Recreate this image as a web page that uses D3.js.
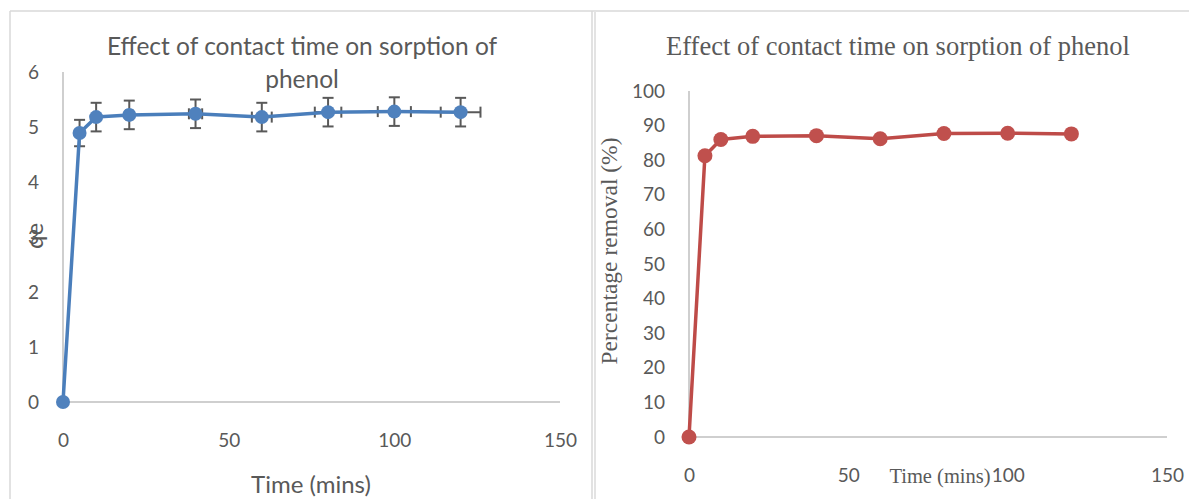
<!DOCTYPE html>
<html>
<head>
<meta charset="utf-8">
<script src="https://cdn.jsdelivr.net/npm/d3@7"></script>
<style>
  html, body { margin: 0; padding: 0; background: #ffffff; }
  svg { display: block; }
</style>
</head>
<body>
<svg id="chart" width="1189" height="499"></svg>
<script>
// ---- data ----
const times = [0, 5, 10, 20, 40, 60, 80, 100, 120];
const qe = [0, 4.89, 5.18, 5.22, 5.24, 5.18, 5.27, 5.28, 5.27];
const qeErr = [0, 0.24, 0.26, 0.26, 0.26, 0.26, 0.26, 0.26, 0.26];
const timeErr = [0, 0.25, 0.5, 1, 2, 3, 4, 5, 6];
const removal = [0, 81.3, 86.0, 86.9, 87.1, 86.2, 87.7, 87.8, 87.6];
const xTicks = [0, 50, 100, 150];
const qeTicks = [0, 1, 2, 3, 4, 5, 6];
const removalTicks = [0, 10, 20, 30, 40, 50, 60, 70, 80, 90, 100];
const leftTitle = ["Effect of contact time on sorption of", "phenol"];
const rightTitle = "Effect of contact time on sorption of phenol";
const xLabel = "Time (mins)";
const leftYLabel = "qe";
const rightYLabel = "Percentage removal (%)";

const svg = d3.select("#chart");
const textCol = "#595959";
const axisCol = "#bfbfbf";
const sans = "Lato, 'Open Sans', sans-serif";
const serif = "'Liberation Serif', 'DejaVu Serif', serif";

// panel borders
svg.append("line").attr("x1", 10).attr("x2", 1189).attr("y1", 11).attr("y2", 11)
  .attr("stroke", "#d9d9d9").attr("stroke-width", 1.5);
svg.append("line").attr("x1", 10).attr("x2", 10).attr("y1", 11).attr("y2", 499)
  .attr("stroke", "#d9d9d9").attr("stroke-width", 1.5);
svg.append("line").attr("x1", 592).attr("x2", 592).attr("y1", 11).attr("y2", 499)
  .attr("stroke", "#d9d9d9").attr("stroke-width", 1.5);
svg.append("line").attr("x1", 595).attr("x2", 595).attr("y1", 11).attr("y2", 499)
  .attr("stroke", "#e3e3e3").attr("stroke-width", 2);

function drawAxes(g, x, y, yTicks, tickFont, tickSize) {
  const [x0, x1] = x.range();
  const [y0, y1] = y.range();
  g.append("line").attr("x1", x0).attr("x2", x0).attr("y1", y0).attr("y2", y1)
    .attr("stroke", axisCol).attr("stroke-width", 1.5);
  g.append("line").attr("x1", x0).attr("x2", x1).attr("y1", y(0)).attr("y2", y(0))
    .attr("stroke", axisCol).attr("stroke-width", 1.5);
  const yAxis = d3.axisLeft(y).tickValues(yTicks).tickFormat(d3.format("d")).tickSize(0).tickPadding(24);
  const ya = g.append("g").attr("transform", `translate(${x0},0)`).call(yAxis);
  ya.select(".domain").remove();
  ya.selectAll("text").attr("fill", textCol).style("font-family", tickFont).style("font-size", tickSize + "px");
  const xAxis = d3.axisBottom(x).tickValues(xTicks).tickFormat(d3.format("d")).tickSize(0).tickPadding(32);
  const xa = g.append("g").attr("transform", `translate(0,${y(0)})`).call(xAxis);
  xa.select(".domain").remove();
  xa.selectAll("text").attr("fill", textCol).style("font-family", tickFont).style("font-size", tickSize + "px");
}

// ---- left chart ----
{
  const g = svg.append("g");
  const x = d3.scaleLinear().domain([0, 150]).range([63, 560]);
  const y = d3.scaleLinear().domain([0, 6]).range([402, 72]);
  drawAxes(g, x, y, qeTicks, sans, 19);

  const pts = times.map((t, i) => ({ t, v: qe[i], ey: qeErr[i], ex: timeErr[i] }));
  const eb = g.append("g").attr("stroke", "#595959").attr("stroke-width", 2).attr("fill", "none");
  const cap = 5.5;
  pts.filter(d => d.ey > 0).forEach(d => {
    const cx = x(d.t), ct = y(d.v + d.ey), cb = y(d.v - d.ey);
    eb.append("line").attr("x1", cx).attr("x2", cx).attr("y1", ct).attr("y2", cb);
    eb.append("line").attr("x1", cx - cap).attr("x2", cx + cap).attr("y1", ct).attr("y2", ct);
    eb.append("line").attr("x1", cx - cap).attr("x2", cx + cap).attr("y1", cb).attr("y2", cb);
    const cy = y(d.v), xl = x(d.t - d.ex), xr = x(d.t + d.ex);
    eb.append("line").attr("x1", xl).attr("x2", xr).attr("y1", cy).attr("y2", cy);
    eb.append("line").attr("x1", xl).attr("x2", xl).attr("y1", cy - cap).attr("y2", cy + cap);
    eb.append("line").attr("x1", xr).attr("x2", xr).attr("y1", cy - cap).attr("y2", cy + cap);
  });

  g.append("path").datum(pts)
    .attr("fill", "none").attr("stroke", "#4a7ebb").attr("stroke-width", 3.5)
    .attr("stroke-linejoin", "round")
    .attr("d", d3.line().x(d => x(d.t)).y(d => y(d.v)));
  g.selectAll("circle.m").data(pts).join("circle").attr("class", "m")
    .attr("cx", d => x(d.t)).attr("cy", d => y(d.v)).attr("r", 7)
    .attr("fill", "#4f81bd");

  g.append("text").attr("x", 302).attr("y", 55).attr("text-anchor", "middle")
    .attr("fill", textCol).style("font-family", sans).style("font-size", "24.5px")
    .text(leftTitle[0]);
  g.append("text").attr("x", 302).attr("y", 88).attr("text-anchor", "middle")
    .attr("fill", textCol).style("font-family", sans).style("font-size", "24.5px")
    .text(leftTitle[1]);
  g.append("text").attr("x", 311).attr("y", 493).attr("text-anchor", "middle")
    .attr("fill", textCol).style("font-family", sans).style("font-size", "24px")
    .text(xLabel);
  g.append("text").attr("transform", "translate(43,236) rotate(-90)").attr("text-anchor", "middle")
    .attr("fill", textCol).style("font-family", sans).style("font-size", "24px")
    .text(leftYLabel);
}

// ---- right chart ----
{
  const g = svg.append("g");
  const x = d3.scaleLinear().domain([0, 150]).range([689, 1167]);
  const y = d3.scaleLinear().domain([0, 100]).range([437, 91]);
  drawAxes(g, x, y, removalTicks, sans, 19);

  const pts = times.map((t, i) => ({ t, v: removal[i] }));
  g.append("path").datum(pts)
    .attr("fill", "none").attr("stroke", "#be4b48").attr("stroke-width", 3.5)
    .attr("stroke-linejoin", "round")
    .attr("d", d3.line().x(d => x(d.t)).y(d => y(d.v)));
  g.selectAll("circle.m").data(pts).join("circle").attr("class", "m")
    .attr("cx", d => x(d.t)).attr("cy", d => y(d.v)).attr("r", 7.5)
    .attr("fill", "#c0504d");

  g.append("text").attr("x", 898).attr("y", 55).attr("text-anchor", "middle")
    .attr("fill", textCol).style("font-family", serif).style("font-size", "26.5px")
    .text(rightTitle);
  g.append("text").attr("x", 940).attr("y", 483).attr("text-anchor", "middle")
    .attr("fill", textCol).style("font-family", serif).style("font-size", "20.5px")
    .text(xLabel);
  g.append("text").attr("transform", "translate(617,251) rotate(-90)").attr("text-anchor", "middle")
    .attr("fill", textCol).style("font-family", serif).style("font-size", "23.5px")
    .text(rightYLabel);
}
</script>
</body>
</html>
